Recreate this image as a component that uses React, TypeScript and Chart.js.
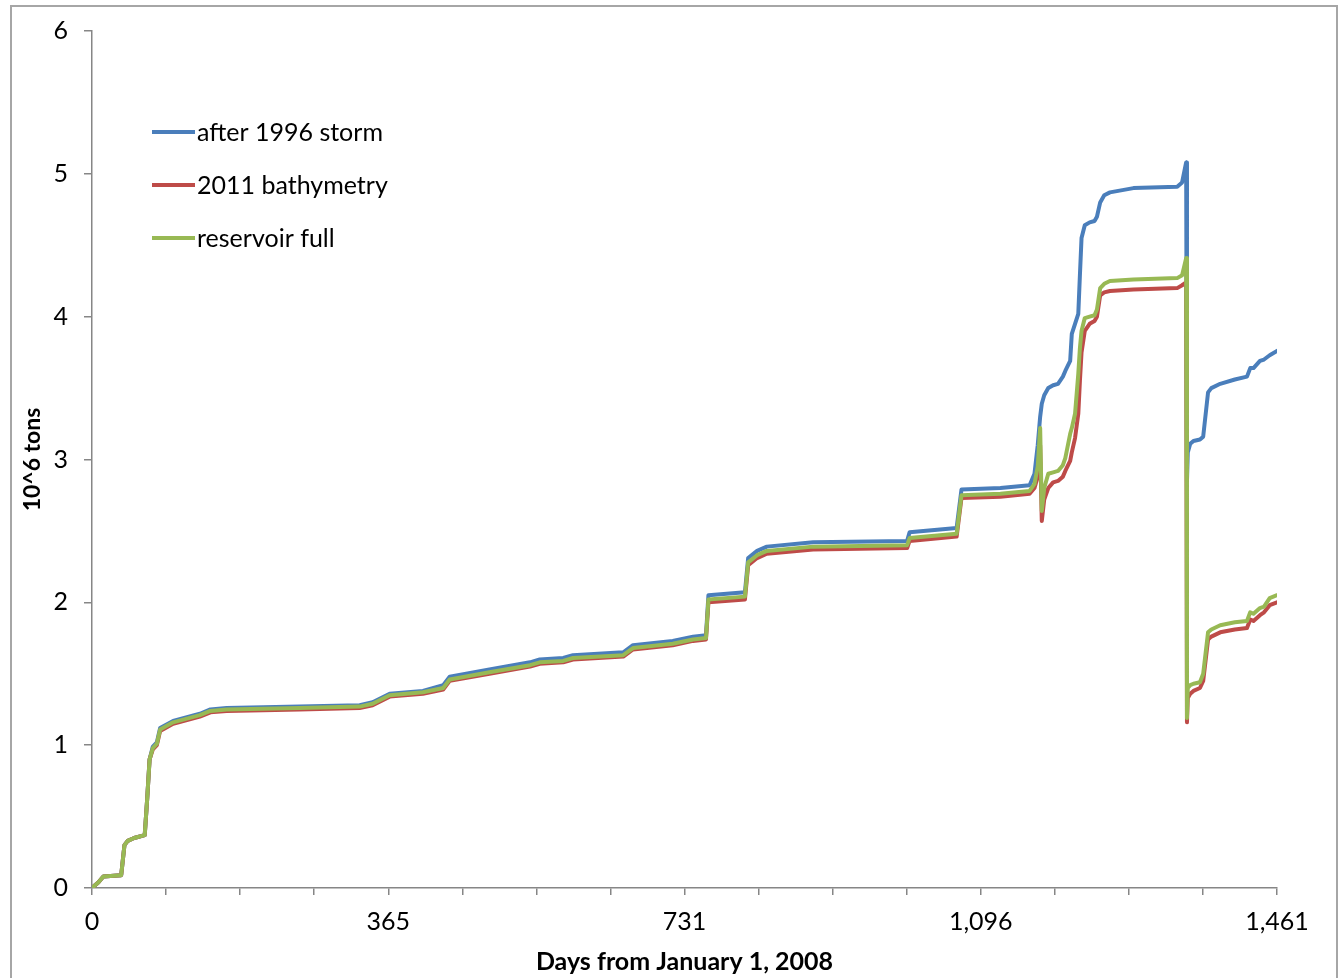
import { useEffect, useRef } from "react";
import { Chart, registerables } from "chart.js";

Chart.register(...registerables);

// Days since January 1, 2008
const days = [
  0, 8, 14, 36, 40, 44, 52, 65, 68, 71,
  75, 80, 84, 100, 133, 146, 166, 256, 330, 346,
  367, 408, 433, 441, 490, 540, 552, 581, 593, 655,
  667, 716, 741, 757, 760, 805, 809, 820, 832, 889,
  1005, 1008, 1066, 1072, 1120, 1156,
  1162, 1166, 1169, 1171, 1174, 1179, 1185, 1191, 1197, 1200,
  1206, 1208, 1212, 1216, 1218, 1220, 1224, 1230, 1236, 1239,
  1243, 1248, 1255, 1284, 1338, 1344, 1349, 1350, 1351, 1354,
  1358, 1366, 1370, 1376, 1380, 1391, 1409, 1424, 1428, 1432,
  1440, 1445, 1452, 1461,
];

// Cumulative sediment, 10^6 tons
const afterStorm = [
  0, 0.04, 0.08, 0.09, 0.3, 0.33, 0.35, 0.37, 0.62, 0.9,
  0.99, 1.02, 1.12, 1.17, 1.22, 1.25, 1.26, 1.27, 1.28, 1.3,
  1.36, 1.38, 1.42, 1.48, 1.53, 1.58, 1.6, 1.61, 1.63, 1.65,
  1.7, 1.73, 1.76, 1.77, 2.05, 2.07, 2.31, 2.36, 2.39, 2.42,
  2.43, 2.49, 2.52, 2.79, 2.8, 2.82,
  2.9, 3.1, 3.3, 3.39, 3.45, 3.5, 3.52, 3.53, 3.58, 3.62,
  3.69, 3.88, 3.95, 4.02, 4.29, 4.55, 4.64, 4.66, 4.67, 4.7,
  4.8, 4.85, 4.87, 4.9, 4.91, 4.94, 5.08, 2.85, 3.05, 3.11,
  3.13, 3.14, 3.16, 3.47, 3.5, 3.53, 3.56, 3.58, 3.64, 3.64,
  3.69, 3.7, 3.73, 3.76,
];

const bathymetry2011 = [
  0, 0.04, 0.08, 0.09, 0.3, 0.33, 0.35, 0.37, 0.62, 0.9,
  0.97, 1.0, 1.1, 1.15, 1.2, 1.23, 1.24, 1.25, 1.26, 1.28,
  1.34, 1.36, 1.39, 1.45, 1.5, 1.55, 1.57, 1.58, 1.6, 1.62,
  1.67, 1.7, 1.73, 1.74, 2.0, 2.02, 2.26, 2.31, 2.34, 2.37,
  2.38, 2.43, 2.46, 2.73, 2.74, 2.76,
  2.8, 2.88, 3.1, 2.57, 2.72, 2.8, 2.84, 2.85, 2.88, 2.92,
  2.99, 3.05, 3.15, 3.32, 3.55, 3.75, 3.9, 3.95, 3.97, 4.0,
  4.15, 4.17, 4.18, 4.19, 4.2, 4.22, 4.24, 1.16, 1.33, 1.36,
  1.38, 1.4, 1.45, 1.74, 1.76, 1.79, 1.81, 1.82, 1.88, 1.87,
  1.91, 1.93, 1.98, 2.0,
];

const reservoirFull = [
  0, 0.04, 0.08, 0.09, 0.3, 0.33, 0.35, 0.37, 0.62, 0.9,
  0.98, 1.01, 1.11, 1.16, 1.21, 1.24, 1.25, 1.26, 1.27, 1.29,
  1.35, 1.37, 1.4, 1.46, 1.51, 1.56, 1.58, 1.59, 1.61, 1.63,
  1.68, 1.71, 1.74, 1.75, 2.02, 2.04, 2.28, 2.33, 2.36, 2.39,
  2.4, 2.45, 2.48, 2.75, 2.76, 2.78,
  2.83, 2.95, 3.22, 2.64, 2.8, 2.9, 2.91, 2.92, 2.96, 3.01,
  3.18, 3.22, 3.32, 3.6, 3.78, 3.9, 3.99, 4.0, 4.01, 4.05,
  4.2, 4.23, 4.25, 4.26, 4.27, 4.29, 4.41, 1.19, 1.4, 1.42,
  1.43, 1.44, 1.5, 1.79, 1.81, 1.84, 1.86, 1.87, 1.93, 1.92,
  1.96, 1.97, 2.03, 2.05,
];

const seriesNames = ["after 1996 storm", "2011 bathymetry", "reservoir full"];
const seriesColors = ["#4A7EBB", "#BE4B48", "#98B954"];
const seriesValues = [afterStorm, bathymetry2011, reservoirFull];

// Labelled x ticks (a quarter-year of minor ticks between each pair)
const xMajorTicks = [0, 365.25, 730.5, 1095.75, 1461];
const xTickLabels = ["0", "365", "731", "1,096", "1,461"];
const minorPerMajor = 4;

const yMin = 0;
const yMax = 6;
const yStep = 1;

const xTitle = "Days from January 1, 2008";
const yTitle = "10^6 tons";

const FONT = "Lato, 'Open Sans', sans-serif";
const AXIS_GRAY = "#868686";

const insetLegend = {
  id: "insetLegend",
  afterDraw(chart: any) {
    const { ctx, chartArea } = chart;
    ctx.save();
    ctx.font = `25px ${FONT}`;
    ctx.textBaseline = "middle";
    ctx.textAlign = "left";
    seriesNames.forEach((name, i) => {
      const y = chartArea.top + 101 + i * 53;
      const x0 = chartArea.left + 60;
      ctx.strokeStyle = seriesColors[i];
      ctx.lineWidth = 4;
      ctx.lineCap = "butt";
      ctx.beginPath();
      ctx.moveTo(x0, y);
      ctx.lineTo(x0 + 43, y);
      ctx.stroke();
      ctx.fillStyle = "#000";
      ctx.fillText(name, x0 + 45, y + 1);
    });
    ctx.restore();
  },
};

export default function App() {
  const canvasRef = useRef<HTMLCanvasElement | null>(null);

  useEffect(() => {
    const canvas = canvasRef.current;
    if (!canvas) return;

    const xTickValues: number[] = [];
    for (let m = 0; m < xMajorTicks.length - 1; m++) {
      const a = xMajorTicks[m];
      const b = xMajorTicks[m + 1];
      for (let k = 0; k < minorPerMajor; k++) {
        xTickValues.push(a + ((b - a) * k) / minorPerMajor);
      }
    }
    xTickValues.push(xMajorTicks[xMajorTicks.length - 1]);

    const chart = new Chart(canvas, {
      type: "line",
      data: {
        datasets: seriesNames.map((name, i) => ({
          label: name,
          data: days.map((d, k) => ({ x: d, y: seriesValues[i][k] })),
          borderColor: seriesColors[i],
          backgroundColor: seriesColors[i],
          borderWidth: 4,
          pointRadius: 0,
          tension: 0,
          fill: false,
          order: seriesNames.length - 1 - i,
          borderJoinStyle: "round" as const,
          borderCapStyle: "round" as const,
        })),
      },
      options: {
        animation: false,
        responsive: false,
        devicePixelRatio: 1,
        layout: { padding: { left: 0, top: 29, right: 67, bottom: 0 } },
        plugins: {
          legend: { display: false },
          tooltip: { enabled: false },
        },
        scales: {
          x: {
            type: "linear",
            min: 0,
            max: 1461,
            afterBuildTicks: (scale: any) => {
              scale.ticks = xTickValues.map((v) => ({ value: v }));
            },
            afterFit: (scale: any) => {
              scale.height = 90;
            },
            ticks: {
              autoSkip: false,
              maxRotation: 0,
              padding: 12,
              color: "#000",
              font: { family: FONT, size: 25 },
              callback: (value: any) => {
                const idx = xMajorTicks.findIndex((t) => Math.abs(t - Number(value)) < 0.01);
                return idx >= 0 ? xTickLabels[idx] : "";
              },
            },
            grid: {
              drawOnChartArea: false,
              drawTicks: true,
              tickLength: 7,
              color: AXIS_GRAY,
              lineWidth: 1.5,
            },
            border: { color: AXIS_GRAY, width: 1.5 },
            title: {
              display: true,
              text: xTitle,
              color: "#000",
              font: { family: FONT, size: 25, weight: "bold" },
              padding: { top: 0, bottom: 1 },
            },
          },
          y: {
            type: "linear",
            min: yMin,
            max: yMax,
            afterFit: (scale: any) => {
              scale.width = 92;
            },
            ticks: {
              stepSize: yStep,
              padding: 16,
              color: "#000",
              font: { family: FONT, size: 25 },
            },
            grid: {
              drawOnChartArea: false,
              drawTicks: true,
              tickLength: 8,
              color: AXIS_GRAY,
              lineWidth: 1.5,
            },
            border: { color: AXIS_GRAY, width: 1.5 },
            title: {
              display: true,
              text: yTitle,
              color: "#000",
              font: { family: FONT, size: 23, weight: "bold" },
              padding: { top: 19, bottom: 0 },
            },
          },
        },
      },
      plugins: [insetLegend],
    });

    return () => chart.destroy();
  }, []);

  return (
    <div style={{ position: "fixed", left: 0, top: 0, width: 1344, height: 978, background: "#fff", overflow: "hidden" }}>
      <div
        style={{
          position: "absolute",
          left: 10,
          top: 5,
          width: 1328,
          height: 990,
          border: "2px solid #a6a6a6",
          boxSizing: "border-box",
        }}
      />
      <canvas ref={canvasRef} width={1344} height={978} style={{ position: "absolute", left: 0, top: 0 }} />
    </div>
  );
}
